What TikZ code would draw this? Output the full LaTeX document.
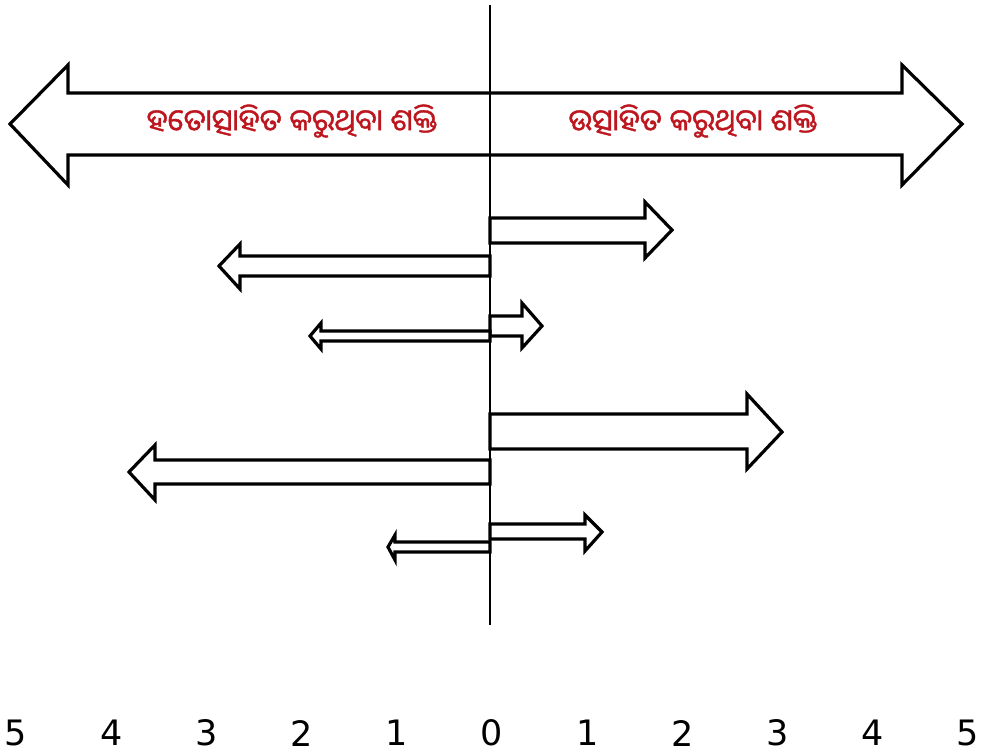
\documentclass[tikz,border=0pt]{standalone}
\usepackage{fontspec}
\setmainfont{DejaVu Sans}
\newfontfamily\oriyafont[Script=Oriya,FakeBold=1.2]{Noto Sans Oriya UI}
\usepackage{tikz}
\usetikzlibrary{calc}
\definecolor{forcered}{RGB}{190,22,30}

\begin{document}
\begin{tikzpicture}[x=1pt, y=-1pt, line join=miter,
  forcearrow/.style={draw, line width=3.2pt, fill=white},
  forcelabel/.style={text=forcered, font=\oriyafont\fontsize{30}{34}\selectfont},
  scalelabel/.style={font=\fontsize{35}{40}\selectfont}]
  \useasboundingbox (0,0) rectangle (987,753);
  % big double arrow
  \draw[forcearrow] (10,124) -- (68,65) -- (68,93) -- (902,93) -- (902,65) -- (962,124)
    -- (902,185) -- (902,155) -- (68,155) -- (68,185) -- cycle;
  \node[forcelabel] (restrain) at (292,121) {ହତୋତ୍ସାହିତ କରୁଥିବା ଶକ୍ତି};
  \node[forcelabel] (drive) at (693,121) {ଉତ୍ସାହିତ କରୁଥିବା ଶକ୍ତି};
  % driving forces
  \draw[forcearrow] (490,218) -- (645,218) -- (645,202) -- (672,230) -- (645,258) -- (645,243) -- (490,243) -- cycle;
  \draw[forcearrow] (490,316) -- (522,316) -- (522,303) -- (542,326) -- (522,348) -- (522,336) -- (490,336) -- cycle;
  \draw[forcearrow] (490,414) -- (747,414) -- (747,394) -- (782,432) -- (747,469) -- (747,449) -- (490,449) -- cycle;
  \draw[forcearrow] (490,524) -- (585,524) -- (585,515) -- (602,532) -- (585,551) -- (585,539) -- (490,539) -- cycle;
  % restraining forces
  \draw[forcearrow] (490,256) -- (240,256) -- (240,244) -- (219,266) -- (240,289) -- (240,276) -- (490,276) -- cycle;
  \draw[forcearrow] (490,331) -- (321,331) -- (321,323) -- (310,336) -- (321,349) -- (321,341) -- (490,341) -- cycle;
  \draw[forcearrow] (490,460) -- (155,460) -- (155,445) -- (129,472) -- (155,500) -- (155,484) -- (490,484) -- cycle;
  \draw[forcearrow] (490,542) -- (395,542) -- (395,535) -- (388,547) -- (395,560) -- (395,552) -- (490,552) -- cycle;
  % zero line
  \coordinate (top) at (490,5);
  \coordinate (bottom) at (490,625);
  \draw[line width=1.6pt] (top) -- (bottom);
  % scale
  \foreach \k in {-5,...,5}{
    \pgfmathtruncatemacro{\v}{abs(\k)}
    \node[scalelabel] (s\k) at ({492+95.2*\k},733) {\v};
  }
\end{tikzpicture}
\end{document}
